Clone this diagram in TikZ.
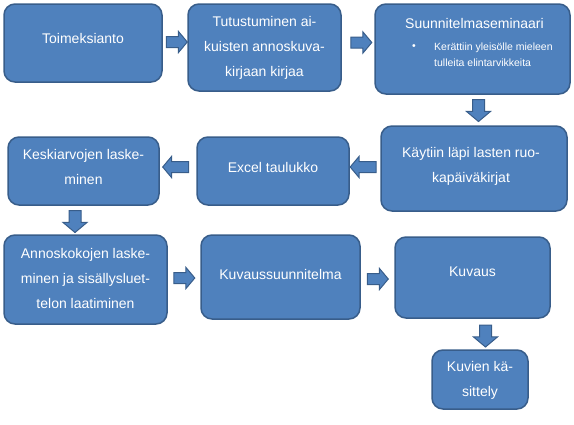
\documentclass[tikz,border=0pt]{standalone}
\usepackage{fontspec}
\setmainfont{Liberation Sans}
\usetikzlibrary{shapes.arrows}
\definecolor{boxfill}{RGB}{79,129,189}
\definecolor{boxline}{RGB}{56,93,138}
\begin{document}
\begin{tikzpicture}[x=1pt,y=-1pt,
  stepbox/.style={draw=boxline, line width=1.5pt, fill=boxfill, rounded corners=11pt, inner sep=0pt},
  boxtext/.style={text=white, align=center, font=\fontsize{14}{25}\selectfont, inner sep=0pt},
  smalltext/.style={text=white, align=left, font=\fontsize{10.5}{16}\selectfont, inner sep=0pt},
  blockarrow/.style={single arrow, draw=boxline, line width=1pt, fill=boxfill, inner xsep=0pt, inner ysep=5pt, single arrow head extend=5pt, single arrow tip angle=100, minimum height=21pt},
  leftarrow/.style={blockarrow, rotate=180, minimum height=26pt},
  downarrow/.style={blockarrow, rotate=-90, minimum height=22pt, inner ysep=5.5pt, single arrow head extend=6pt}]
\useasboundingbox (0,0) rectangle (574,424);
% boxes
\node[stepbox, minimum width=158pt, minimum height=78pt] (b1) at (83,43) {};
\node[stepbox, minimum width=153pt, minimum height=87pt] (b2) at (264.5,47.5) {};
\node[stepbox, minimum width=195pt, minimum height=90pt] (b3) at (472.5,49) {};
\node[stepbox, minimum width=186pt, minimum height=85pt] (b4) at (474,168.5) {};
\node[stepbox, minimum width=152pt, minimum height=68pt] (b5) at (273,171) {};
\node[stepbox, minimum width=151pt, minimum height=68pt] (b6) at (83.5,171) {};
\node[stepbox, minimum width=163pt, minimum height=89pt] (b7) at (85.5,279.5) {};
\node[stepbox, minimum width=159pt, minimum height=84pt] (b8) at (280.5,277) {};
\node[stepbox, minimum width=155pt, minimum height=81pt] (b9) at (472.5,277.5) {};
\node[stepbox, minimum width=96pt, minimum height=59pt] (b10) at (480,379.5) {};
% texts
\node[boxtext] (t1) at (83,38) {Toimeksianto};
\node[boxtext] (t2) at (264.5,48) {Tutustuminen ai-\\kuisten annoskuva-\\kirjaan kirjaa};
\node[boxtext] (t3) at (474.5,23) {Suunnitelmaseminaari};
\node[smalltext] (t3bullet) at (414,47) {•};
\node[smalltext, anchor=west] (t3list) at (434,55) {Kerättiin yleisölle mieleen\\tulleita elintarvikkeita};
\node[boxtext] (t4) at (471,166) {Käytiin läpi lasten ruo-\\kapäiväkirjat};
\node[boxtext] (t5) at (273,167) {Excel taulukko};
\node[boxtext] (t6) at (83.5,167) {Keskiarvojen laske-\\minen};
\node[boxtext] (t7) at (85.5,278) {Annoskokojen laske-\\minen ja sisällysluet-\\telon laatiminen};
\node[boxtext] (t8) at (280.5,274) {Kuvaussuunnitelma};
\node[boxtext] (t9) at (472.5,272) {Kuvaus};
\node[boxtext] (t10) at (480,380.5) {Kuvien kä-\\sittely};
% block arrows
\node[blockarrow] (a1) at (174.5,42) {};
\node[blockarrow] (a2) at (359,42.5) {};
\node[downarrow] (a3) at (478.5,108) {};
\node[leftarrow] (a4) at (365.5,167) {};
\node[leftarrow] (a5) at (178,167) {};
\node[downarrow] (a6) at (75,219) {};
\node[blockarrow] (a7) at (182,278) {};
\node[blockarrow] (a8) at (375.5,279) {};
\node[downarrow] (a9) at (485.5,333.5) {};
\end{tikzpicture}
\end{document}
